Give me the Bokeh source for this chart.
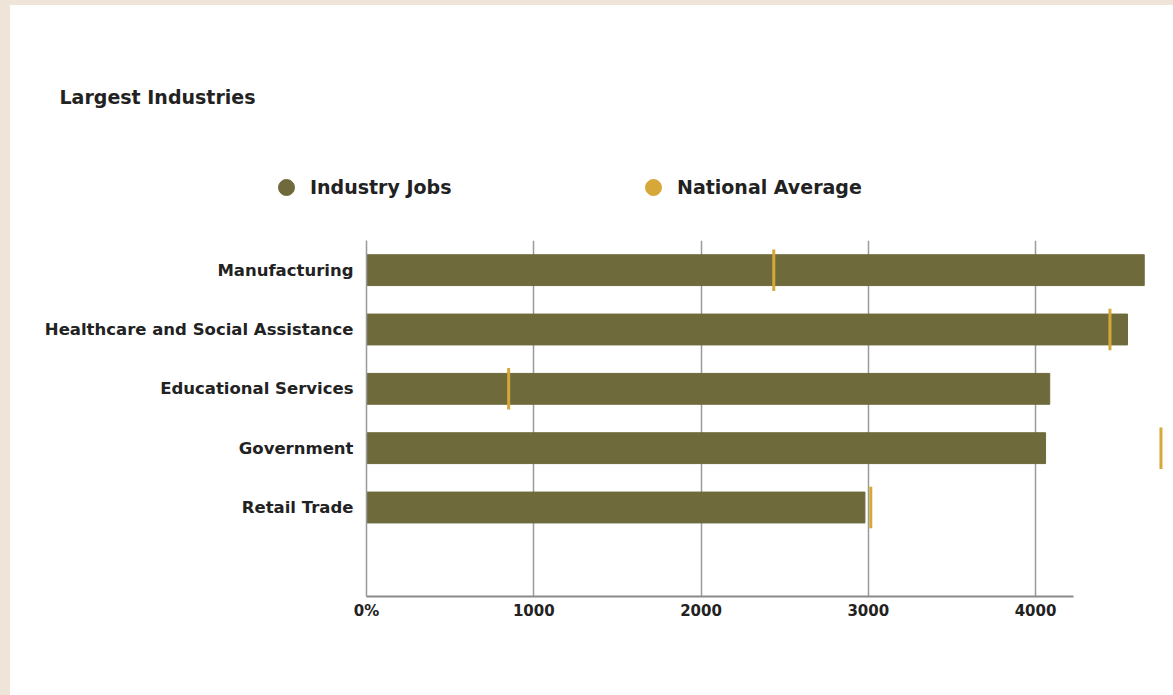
from bokeh.plotting import figure
from bokeh.models import (Range1d, FixedTicker, Legend, LegendItem, Label, ColumnDataSource)
from bokeh.embed import file_html
from bokeh.resources import INLINE

# ---- data ----
categories = ["Manufacturing", "Healthcare and Social Assistance", "Educational Services",
              "Government", "Retail Trade"]
industry_jobs = [4650, 4550, 4085, 4060, 2980]
national_average = [2435, 4445, 850, 4750, 3015]
x_ticks = [0, 1000, 2000, 3000, 4000]
x_tick_labels = ["0%", "1000", "2000", "3000", "4000"]
title_text = "Largest Industries"
series_names = ["Industry Jobs", "National Average"]

OLIVE = "#6E6A3B"
GOLD = "#D6A838"
FONT = "DejaVu Sans"
TEXT = "#222222"

# ---------- header figure: title + legend ----------
head = figure(width=1163, height=230, output_backend="svg", toolbar_location=None,
              x_range=Range1d(0, 1), y_range=Range1d(0, 1),
              min_border=0, min_border_left=0, min_border_right=0,
              min_border_top=0, min_border_bottom=0,
              background_fill_color="white", border_fill_color="white", outline_line_color=None)
head.axis.visible = False
head.grid.visible = False

head.add_layout(Label(x=49, y=139, x_units="screen", y_units="screen", text=title_text,
                      text_font=FONT, text_font_style="bold", text_font_size="19px",
                      text_color=TEXT, text_baseline="middle", text_align="left"))

# legend swatches (the single points sit outside the visible range)
r1 = head.scatter(x=[-5], y=[-5], size=16, color=OLIVE)
r2 = head.scatter(x=[-5], y=[-5], size=16, color=GOLD)
lg = Legend(items=[LegendItem(label=series_names[0], renderers=[r1]),
                   LegendItem(label=series_names[1], renderers=[r2])],
            orientation="horizontal", location=(256, 28),
            glyph_width=40, glyph_height=40, label_standoff=4, label_width=323,
            spacing=0, padding=0, margin=0,
            border_line_color=None, background_fill_alpha=0,
            label_text_font=FONT, label_text_font_style="bold", label_text_font_size="19px",
            label_text_color=TEXT)
head.add_layout(lg, "center")

# ---------- chart ----------
n = len(categories)
ys = [n - i for i in range(n)]  # 5..1, slot 0 left empty

src = ColumnDataSource(dict(
    y=ys, cat=categories, jobs=industry_jobs, avg=national_average,
    y0=[y - 0.35 for y in ys], y1=[y + 0.35 for y in ys],
))

p = figure(width=1163, height=460, output_backend="svg", toolbar_location=None,
           x_range=Range1d(0, 4807), y_range=Range1d(-0.5, 5.5),
           min_border_left=356, min_border_right=3, min_border_top=5, min_border_bottom=99,
           background_fill_color="white", border_fill_color="white", outline_line_color=None)

p.hbar(y="y", left=0, right="jobs", height=0.52, color=OLIVE, source=src)
p.segment(x0="avg", x1="avg", y0="y0", y1="y1", line_width=3, line_color=GOLD, source=src)

p.xaxis.ticker = FixedTicker(ticks=x_ticks)
p.xaxis.major_label_overrides = {t: l for t, l in zip(x_ticks, x_tick_labels)}
p.xaxis.bounds = (0, 4230)
p.xaxis.axis_line_color = "#8A8A8A"
p.xaxis.axis_line_width = 2
p.xaxis.major_tick_line_color = None
p.xaxis.minor_tick_line_color = None
p.xaxis.major_label_text_font = FONT
p.xaxis.major_label_text_font_style = "bold"
p.xaxis.major_label_text_font_size = "15px"
p.xaxis.major_label_text_color = TEXT
p.xaxis.major_label_standoff = -1

p.yaxis.ticker = FixedTicker(ticks=ys)
p.yaxis.major_label_overrides = {y: c for y, c in zip(ys, categories)}
p.yaxis.axis_line_color = "#999999"
p.yaxis.axis_line_width = 1.5
p.yaxis.major_tick_line_color = None
p.yaxis.minor_tick_line_color = None
p.yaxis.major_label_text_font = FONT
p.yaxis.major_label_text_font_style = "bold"
p.yaxis.major_label_text_font_size = "16.5px"
p.yaxis.major_label_text_color = TEXT
p.yaxis.major_label_standoff = 7

p.xgrid.ticker = FixedTicker(ticks=x_ticks)
p.xgrid.grid_line_color = "#9A9A9A"
p.xgrid.grid_line_width = 1.5
p.ygrid.grid_line_color = None

html = file_html([head, p], INLINE)
css = ("<style>html{margin:0;padding:0;background:#EEE4D8;}"
       "body{margin:0;padding:0;background:#FFFFFF;border-left:10px solid #EEE4D8;"
       "border-top:5px solid #EEE4D8;min-height:690px;}</style></head>")
html = html.replace("</head>", css, 1)
open("out.html", "w").write(html)
